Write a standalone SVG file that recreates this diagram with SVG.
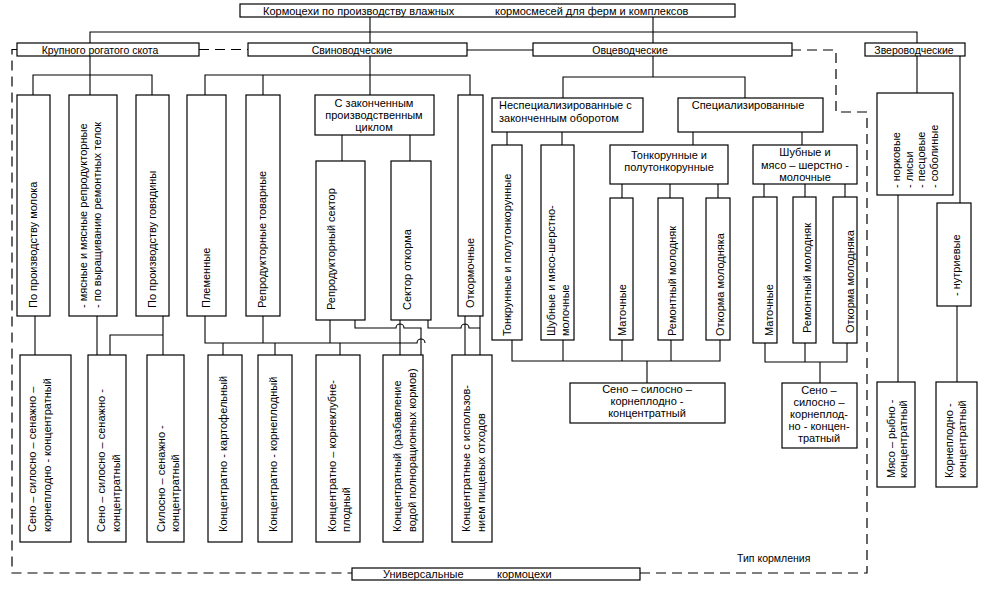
<svg xmlns="http://www.w3.org/2000/svg" width="994" height="592" viewBox="0 0 994 592">
<style>
.b{fill:#fff;stroke:#000;stroke-width:1.2}
.c{fill:none;stroke:#000;stroke-width:1.1}
.d{fill:none;stroke:#000;stroke-width:1.2;stroke-dasharray:10 6}
text{font-family:"Liberation Sans",Arial,sans-serif;font-size:11px;fill:#000}
.m{text-anchor:middle}
.s{font-size:10.5px}
</style>
<rect width="994" height="592" fill="#fff"/>
<g id="connectors">
<path class="c" d="M370,17V43M653,17V43M90,43V32H917V43"/>
<path class="d" d="M199,49.5H248M17,49.5H12V573H352M640,573H867V112H836V50H792"/>
<path class="c" d="M467,50H533"/>
<path class="c" d="M90,56V75M33,95V75H152V95M90,75V95"/>
<path class="c" d="M370,56V95M205,95V75H470V95M263,75V95M342,135V161M410,135V161"/>
<path class="c" d="M653,56V77M563,98V77H745V98M507,132V145M562,132V145M693,132V145M802,132V145"/>
<path class="c" d="M622,184V198M670,184V198M718,184V198M764,184V197M805,184V197M845,184V197"/>
<path class="c" d="M917,56V93M960,56V203M898,195V382M957,306V382"/>
<path class="c" d="M35,316V355M97,316V355M163,316V355M110,355V335H163"/>
<path class="c" d="M205,316V343H417a4,4 0 0 1 8,0M263,316V343M330,320V343M223,343V355M275,343V355M340,343V355M400,320V355"/>
<path class="c" d="M355,320V328H396a4,4 0 0 1 8,0H421V355M428,320V328H461a4,4 0 0 1 8,0H480M480,316V355M465,316V355"/>
<path class="c" d="M512,340V361H720V340M563,340V361M622,340V361M671,340V361M647,361V383"/>
<path class="c" d="M765,343V362H847V343M805,343V362M820,362V383"/>
</g>
<g id="title"><rect class="b" x="240" y="4" width="495" height="13"/><text x="263" y="14.5">Кормоцехи по производству влажных</text><text x="495" y="14.5">кормосмесей для ферм и комплексов</text></g>
<g id="krs"><rect class="b" x="17" y="43" width="182" height="13"/><text class="m s" x="100" y="53.5">Крупного рогатого скота</text></g>
<g id="svin"><rect class="b" x="248" y="43" width="219" height="13"/><text class="m s" x="352" y="53.5">Свиноводческие</text></g>
<g id="ovc"><rect class="b" x="533" y="43" width="259" height="13"/><text class="m s" x="630" y="53.5">Овцеводческие</text></g>
<g id="zver"><rect class="b" x="865" y="43" width="100" height="13"/><text class="m s" x="914" y="53.5">Звероводческие</text></g>

<g id="k1"><rect class="b" x="17" y="95" width="33" height="221"/><text transform="translate(37,308) rotate(-90)">По производству молока</text></g>
<g id="k2"><rect class="b" x="69" y="95" width="48" height="221"/><text transform="translate(87,308) rotate(-90)">- мясные и мясные репродукторные</text><text transform="translate(101,308) rotate(-90)">- по выращиванию ремонтных телок</text></g>
<g id="k3"><rect class="b" x="136" y="95" width="33" height="221"/><text transform="translate(156,308) rotate(-90)">По производству говядины</text></g>

<g id="s1"><rect class="b" x="187" y="95" width="39" height="221"/><text transform="translate(210,308) rotate(-90)">Племенные</text></g>
<g id="s2"><rect class="b" x="246" y="95" width="34" height="221"/><text transform="translate(266,308) rotate(-90)">Репродукторные товарные</text></g>
<g id="s3"><rect class="b" x="315" y="95" width="119" height="40"/><text class="m" x="374" y="107">С законченным</text><text class="m" x="374" y="119">производственным</text><text class="m" x="374" y="131">циклом</text></g>
<g id="s4"><rect class="b" x="316" y="161" width="49" height="159"/><text transform="translate(335,310) rotate(-90)">Репродукторный сектор</text></g>
<g id="s5"><rect class="b" x="391" y="161" width="40" height="159"/><text transform="translate(411,310) rotate(-90)">Сектор откорма</text></g>
<g id="s6"><rect class="b" x="458" y="95" width="25" height="221"/><text transform="translate(474,308) rotate(-90)">Откормочные</text></g>

<g id="o1"><rect class="b" x="492" y="98" width="151" height="34"/><text x="499" y="109">Неспециализированные с</text><text x="499" y="122">законченным оборотом</text></g>
<g id="o2"><rect class="b" x="678" y="98" width="145" height="34"/><text class="m" x="748" y="109">Специализированные</text></g>
<g id="o3"><rect class="b" x="492" y="145" width="30" height="195"/><text transform="translate(511,336) rotate(-90)">Тонкрунные и полутонкорунные</text></g>
<g id="o4"><rect class="b" x="541" y="145" width="33" height="195"/><text transform="translate(555,336) rotate(-90)">Шубные и мясо-шерстно-</text><text transform="translate(569,336) rotate(-90)">молочные</text></g>
<g id="o5"><rect class="b" x="610" y="145" width="118" height="39"/><text class="m" x="669" y="159">Тонкорунные и</text><text class="m" x="669" y="171">полутонкорунные</text></g>
<g id="o6"><rect class="b" x="753" y="145" width="104" height="39"/><text class="m" x="805" y="156">Шубные и</text><text class="m" x="805" y="169">мясо – шерстно -</text><text class="m" x="805" y="181">молочные</text></g>
<g id="o7"><rect class="b" x="610" y="198" width="23" height="142"/><text transform="translate(626,336) rotate(-90)">Маточные</text></g>
<g id="o8"><rect class="b" x="658" y="198" width="25" height="142"/><text transform="translate(676,336) rotate(-90)">Ремонтный молодняк</text></g>
<g id="o9"><rect class="b" x="706" y="198" width="24" height="142"/><text transform="translate(724,336) rotate(-90)">Откорма молодняка</text></g>
<g id="o10"><rect class="b" x="753" y="197" width="24" height="146"/><text transform="translate(773,336) rotate(-90)">Маточные</text></g>
<g id="o11"><rect class="b" x="793" y="197" width="23" height="146"/><text transform="translate(811,333) rotate(-90)">Ремонтный молодняк</text></g>
<g id="o12"><rect class="b" x="833" y="197" width="24" height="146"/><text transform="translate(854,333) rotate(-90)">Откорма молодняка</text></g>

<g id="f1"><rect class="b" x="877" y="93" width="76" height="102"/><text transform="translate(900,188) rotate(-90)">- норковые</text><text transform="translate(913,188) rotate(-90)">- лисьи</text><text transform="translate(925,188) rotate(-90)">- песцовые</text><text transform="translate(938,188) rotate(-90)">- соболиные</text></g>
<g id="f2"><rect class="b" x="937" y="203" width="34" height="103"/><text transform="translate(960,296) rotate(-90)">- нутриевые</text></g>

<g id="b1"><rect class="b" x="20" y="355" width="51" height="187"/><text transform="translate(36,532) rotate(-90)">Сено – силосно – сенажно –</text><text transform="translate(51,532) rotate(-90)">корнеплодно - концентратный</text></g>
<g id="b2"><rect class="b" x="88" y="355" width="38" height="187"/><text transform="translate(105,532) rotate(-90)">Сено – силосно – сенажно -</text><text transform="translate(120,532) rotate(-90)">концентратный</text></g>
<g id="b3"><rect class="b" x="147" y="355" width="37" height="187"/><text transform="translate(165,532) rotate(-90)">Силосно – сенажно -</text><text transform="translate(179,532) rotate(-90)">концентратный</text></g>
<g id="p1"><rect class="b" x="208" y="355" width="34" height="187"/><text transform="translate(227,532) rotate(-90)">Концентратно - картофельный</text></g>
<g id="p2"><rect class="b" x="258" y="355" width="34" height="187"/><text transform="translate(277,532) rotate(-90)">Концентратно - корнеплодный</text></g>
<g id="p3"><rect class="b" x="316" y="355" width="44" height="187"/><text transform="translate(336,532) rotate(-90)">Концентратно – корнеклубне-</text><text transform="translate(350,532) rotate(-90)">плодный</text></g>
<g id="p4"><rect class="b" x="383" y="355" width="40" height="187"/><text transform="translate(401,532) rotate(-90)">Концентратный (разбавление</text><text transform="translate(416,532) rotate(-90)">водой полнорационных кормов)</text></g>
<g id="p5"><rect class="b" x="452" y="355" width="40" height="187"/><text transform="translate(470,532) rotate(-90)">Концентратные с использов-</text><text transform="translate(485,532) rotate(-90)">нием пищевых отходов</text></g>

<g id="of1"><rect class="b" x="570" y="383" width="155" height="40"/><text class="m" x="647" y="393">Сено – силосно –</text><text class="m" x="647" y="405">корнеплодно -</text><text class="m" x="647" y="417">концентратный</text></g>
<g id="of2"><rect class="b" x="782" y="383" width="75" height="65"/><text class="m" x="819" y="394">Сено –</text><text class="m" x="819" y="406">силосно –</text><text class="m" x="819" y="418">корнеплод-</text><text class="m" x="819" y="430">но - концен-</text><text class="m" x="819" y="442">тратный</text></g>
<g id="ff1"><rect class="b" x="877" y="382" width="38" height="105"/><text transform="translate(895,478) rotate(-90)">Мясо – рыбно -</text><text transform="translate(907,478) rotate(-90)">концентратный</text></g>
<g id="ff2"><rect class="b" x="936" y="382" width="41" height="105"/><text transform="translate(953,478) rotate(-90)">Корнеплодно -</text><text transform="translate(966,478) rotate(-90)">концентратный</text></g>

<g id="univ"><rect class="b" x="352" y="568" width="288" height="12"/><text x="383" y="578">Универсальные</text><text x="497" y="578">кормоцехи</text></g>
<g id="tip"><text x="737" y="562" class="s">Тип кормления</text></g>
</svg>
